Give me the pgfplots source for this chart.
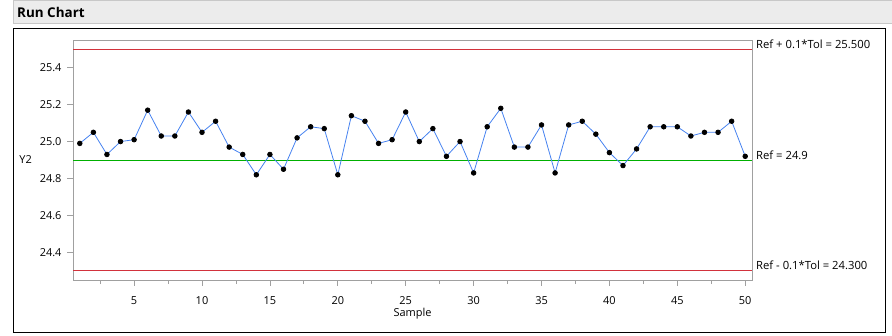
\documentclass[border=0pt]{standalone}
\usepackage{pgfplots}
\pgfplotsset{compat=1.18}
\usepackage{fontspec}
\setmainfont{Open Sans}
\definecolor{lineblue}{RGB}{70,130,240}
\definecolor{refgreen}{RGB}{0,176,0}
\definecolor{refred}{RGB}{210,50,60}
\definecolor{framegray}{RGB}{160,160,160}
\definecolor{barfill}{RGB}{236,236,236}
\definecolor{barborder}{RGB}{200,200,200}
\begin{document}
\begin{tikzpicture}[x=1bp,y=1bp]
\path[use as bounding box] (0,0) rectangle (892,-335);
\fill[barfill,draw=barborder,line width=0.8bp] (13,-0.5) rectangle (892,-23);
\node[anchor=west,inner sep=0,font=\fontsize{13.5}{15}\selectfont\bfseries] at (17,-12) {Run Chart};
\draw[black,line width=1bp] (13,-28.5) rectangle (885,-332);
\begin{axis}[
  at={(73bp,-280bp)}, anchor=south west,
  scale only axis, width=679bp, height=240bp,
  xmin=0.5, xmax=50.5, ymin=24.25, ymax=25.55,
  clip=false,
  axis line style={framegray,line width=0.8bp},
  xtick={5,10,...,50},
  minor xtick={2.5,7.5,...,47.5},
  ytick={24.4,24.6,...,25.41},
  tick align=outside,
  tick style={framegray,line width=0.8bp},
  major tick length=5.5bp, minor tick length=4bp,
  xtick pos=bottom, ytick pos=left,
  tick label style={font=\fontsize{11}{13}\selectfont},
  yticklabel style={xshift=-2.5bp,/pgf/number format/.cd,fixed,fixed zerofill,precision=1},
  xticklabel style={yshift=-8bp},
  /pgf/number format/assume math mode=true,
  xlabel={Sample}, xlabel style={at={(axis description cs:0.5,0)},anchor=center,yshift=-34bp,font=\fontsize{11}{13}\selectfont},
  ylabel={Y2}, ylabel style={rotate=-90,at={(axis description cs:0,0.5)},anchor=east,inner sep=0,xshift=-41bp,font=\fontsize{11}{13}\selectfont},
]
\addplot[refred,line width=0.8bp,forget plot] coordinates {(0.5,25.5) (50.5,25.5)};
\addplot[refred,line width=0.8bp,forget plot] coordinates {(0.5,24.3) (50.5,24.3)};
\addplot[refgreen,line width=0.9bp,forget plot] coordinates {(0.5,24.9) (50.5,24.9)};
\addplot[lineblue,line width=0.8bp,mark=*,mark size=2.3bp,mark options={black,fill=black}] coordinates {
(1,24.99) (2,25.05) (3,24.93) (4,25.00) (5,25.01) (6,25.17) (7,25.03) (8,25.03) (9,25.16) (10,25.05)
(11,25.11) (12,24.97) (13,24.93) (14,24.82) (15,24.93) (16,24.85) (17,25.02) (18,25.08) (19,25.07) (20,24.82)
(21,25.14) (22,25.11) (23,24.99) (24,25.01) (25,25.16) (26,25.00) (27,25.07) (28,24.92) (29,25.00) (30,24.83)
(31,25.08) (32,25.18) (33,24.97) (34,24.97) (35,25.09) (36,24.83) (37,25.09) (38,25.11) (39,25.04) (40,24.94)
(41,24.87) (42,24.96) (43,25.08) (44,25.08) (45,25.08) (46,25.03) (47,25.05) (48,25.05) (49,25.11) (50,24.92)
};
\node[anchor=base west,inner sep=0,xshift=4bp,yshift=1bp,font=\fontsize{11.3}{13}\selectfont] at (axis cs:50.5,25.5) {Ref + 0.1*Tol = 25.500};
\node[anchor=base west,inner sep=0,xshift=4bp,yshift=1bp,font=\fontsize{11.3}{13}\selectfont] at (axis cs:50.5,24.9) {Ref = 24.9};
\node[anchor=base west,inner sep=0,xshift=4bp,yshift=1bp,font=\fontsize{11.3}{13}\selectfont] at (axis cs:50.5,24.3) {Ref - 0.1*Tol = 24.300};
\end{axis}
\end{tikzpicture}
\end{document}
